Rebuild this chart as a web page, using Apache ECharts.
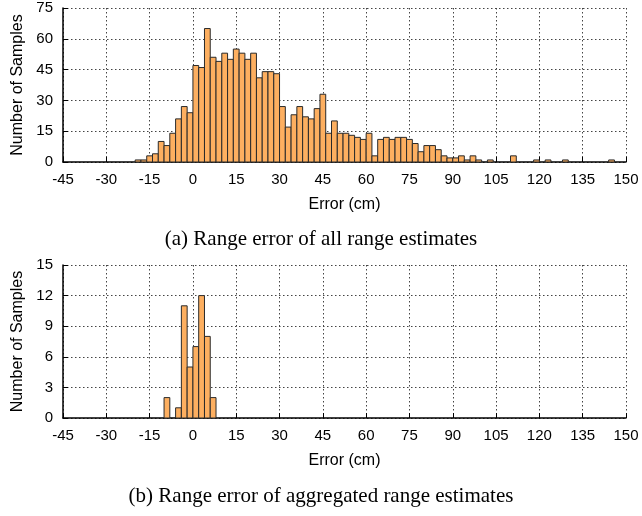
<!DOCTYPE html>
<html>
<head>
<meta charset="utf-8">
<script src="https://cdn.jsdelivr.net/npm/echarts@6/dist/echarts.min.js"></script>
<style>html,body{margin:0;padding:0;background:#fff}#c{width:642px;height:516px}</style>
</head>
<body>
<div id="c"></div>
<script>
// ---- data ----
const binWidth = 2;
const xTicks = [-45, -30, -15, 0, 15, 30, 45, 60, 75, 90, 105, 120, 135, 150];
const yTicksA = [0, 15, 30, 45, 60, 75];
const yTicksB = [0, 3, 6, 9, 12, 15];

// (a) all range estimates: bin start (cm) and count
const binStartA = [-20,-18,-16,-14,-12,-10,-8,-6,-4,-2,0,2,4,6,8,10,12,14,16,18,20,22,24,26,28,30,32,34,36,38,40,42,44,46,48,50,52,54,56,58,60,62,64,66,68,70,72,74,76,78,80,82,84,86,88,90,92,94,96,98,102,110,118,122,128,144];
const countA    = [1,1,3,4,10,8,14,21,27,24,47,46,65,51,49,53,50,55,53,50,53,41,44,44,43,27,17,23,27,22,21,26,33,14,20,14,14,13,12,11,14,3,11,12,11,12,12,11,9,5,8,8,6,3,2,2,3,1,3,1,1,3,1,1,1,1];

// (b) aggregated range estimates
const binStartB = [-10,-6,-4,-2,0,2,4,6];
const countB    = [2,1,11,5,7,12,8,2];

const captionA = '(a) Range error of all range estimates';
const captionB = '(b) Range error of aggregated range estimates';

// ---- chart ----
const sans = 'Liberation Sans, Arial, sans-serif';
const serif = 'Liberation Serif, Times New Roman, serif';
const barFill = '#FDAF60';

function toData(starts, counts) {
  return starts.map((s, i) => [s, s + binWidth, counts[i]]);
}
function renderBin(params, api) {
  const p0 = api.coord([api.value(0), api.value(2)]);
  const p1 = api.coord([api.value(1), 0]);
  return {
    type: 'rect',
    shape: { x: p0[0], y: p0[1], width: p1[0] - p0[0], height: p1[1] - p0[1] },
    style: { fill: barFill, stroke: '#2a2a2a', lineWidth: 1 }
  };
}
function xAxisCfg(idx) {
  return {
    type: 'value', gridIndex: idx,
    min: xTicks[0], max: xTicks[xTicks.length - 1], interval: 15,
    name: 'Error (cm)', nameLocation: 'middle', nameGap: 35,
    nameTextStyle: { fontFamily: sans, fontSize: 16, color: '#000' },
    axisLine: { show: true, onZero: false, lineStyle: { color: '#000', width: 1.5 } },
    axisTick: { show: true, inside: true, length: 5, lineStyle: { color: '#000' } },
    axisLabel: { fontFamily: sans, fontSize: 15, color: '#000', margin: 10 },
    splitLine: { show: true, lineStyle: { type: [1.5, 2.5], color: '#444', width: 1 } }
  };
}
function yAxisCfg(idx, ticks) {
  return {
    type: 'value', gridIndex: idx,
    min: ticks[0], max: ticks[ticks.length - 1], interval: ticks[1] - ticks[0],
    name: 'Number of Samples', nameLocation: 'middle', nameGap: 37, nameRotate: 90,
    nameTextStyle: { fontFamily: sans, fontSize: 16, color: '#000' },
    axisLine: { show: true, onZero: false, lineStyle: { color: '#000', width: 1.5 } },
    axisTick: { show: true, inside: true, length: 5, lineStyle: { color: '#000' } },
    axisLabel: { fontFamily: sans, fontSize: 15, color: '#000', margin: 10 },
    splitLine: { show: true, lineStyle: { type: [1.5, 2.5], color: '#444', width: 1 } }
  };
}

const chart = echarts.init(document.getElementById('c'), null, { renderer: 'canvas' });
chart.setOption({
  animation: false,
  backgroundColor: '#fff',
  title: [
    { text: captionA, left: 'center', top: 229, padding: 0,
      textStyle: { fontFamily: serif, fontSize: 21, fontWeight: 'normal', color: '#000' } },
    { text: captionB, left: 'center', top: 486, padding: 0,
      textStyle: { fontFamily: serif, fontSize: 21, fontWeight: 'normal', color: '#000' } }
  ],
  grid: [
    { left: 63, right: 16, top: 8, height: 154 },
    { left: 63, right: 16, top: 265, height: 153 }
  ],
  xAxis: [xAxisCfg(0), xAxisCfg(1)],
  yAxis: [yAxisCfg(0, yTicksA), yAxisCfg(1, yTicksB)],
  series: [
    { type: 'custom', xAxisIndex: 0, yAxisIndex: 0, renderItem: renderBin,
      encode: { x: [0, 1], y: 2 }, data: toData(binStartA, countA) },
    { type: 'custom', xAxisIndex: 1, yAxisIndex: 1, renderItem: renderBin,
      encode: { x: [0, 1], y: 2 }, data: toData(binStartB, countB) }
  ]
});
</script>
</body>
</html>
